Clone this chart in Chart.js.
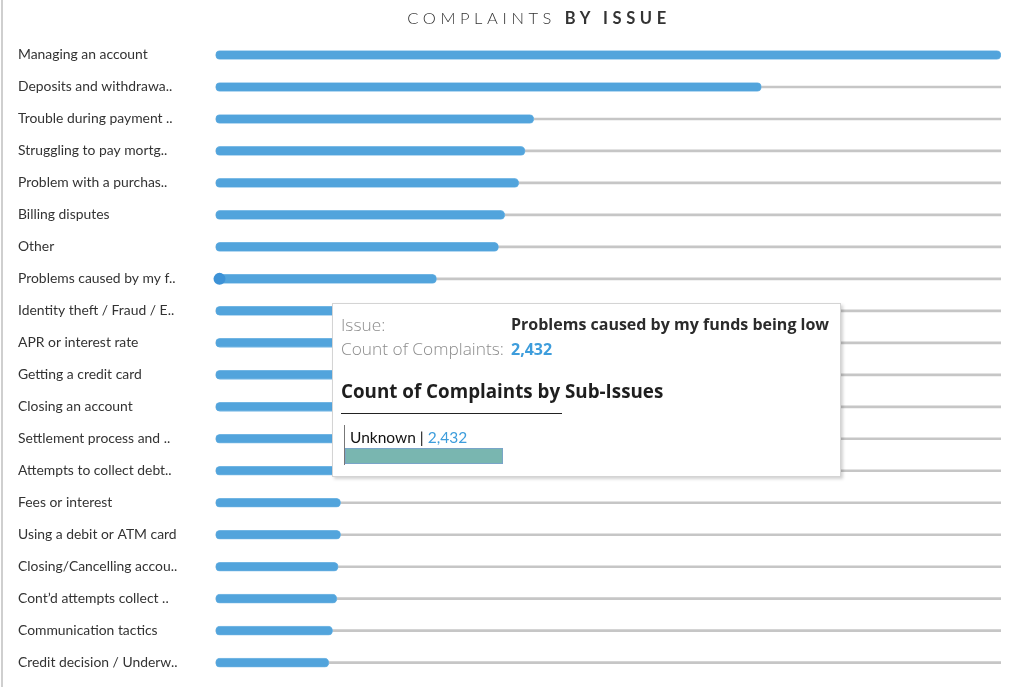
<!DOCTYPE html>
<html>
<head>
<meta charset="utf-8">
<script src="https://cdn.jsdelivr.net/npm/chart.js@4"></script>
<style>
  html, body { margin: 0; padding: 0; background: #fff; }
  body { width: 1035px; height: 687px; position: relative; overflow: hidden; font-family: Lato, "Open Sans", sans-serif; }
  #leftline { position: absolute; left: 1px; top: 0; width: 2px; height: 687px; background: #cfcfcf; }
  #title { position: absolute; left: 0; top: 6px; width: 1078px; text-align: center; font-size: 16.5px; letter-spacing: 4.6px; color: #333; line-height: 24px; }
  #title .l { font-weight: 300; }
  #title .b { font-weight: 700; }
  #wrap { position: absolute; left: 0; top: 0; width: 1035px; height: 687px; }
  #tip { position: absolute; left: 332px; top: 303px; width: 507px; height: 172px; background: #fff; border: 1px solid #d4d4d4; box-shadow: 2px 2px 3px rgba(0,0,0,0.18); }
  .t { position: absolute; white-space: nowrap; font-size: 15.5px; line-height: 20px; }
  .os { font-family: "Open Sans", sans-serif; font-size: 16px; }
  .gray { color: #8c8c8c; font-weight: 300; font-size: 17.3px; }
  .bold { color: #2b2b2b; font-weight: 700; }
  .blue { color: #3d9ddc; }
  #subhead { position: absolute; left: 8px; top: 74px; font-family: "Open Sans", sans-serif; font-size: 18.8px; font-weight: 700; color: #1e1e1e; white-space: nowrap; line-height: 26px; }
  #rule { position: absolute; left: 8px; top: 109px; width: 221px; height: 1px; background: #222; }
  #axisline { position: absolute; left: 11px; top: 121px; width: 1px; height: 40px; background: #777; }
  #miniwrap { position: absolute; left: 12px; top: 144px; width: 158px; height: 16px; }
</style>
</head>
<body>
<div id="leftline"></div>
<div id="wrap"><canvas id="c" width="1035" height="687"></canvas></div>
<div id="title"><span class="l">COMPLAINTS</span> <span class="b">BY ISSUE</span></div>
<div id="tip">
  <div class="t os gray" style="left:8px; top:11px;">Issue:</div>
  <div class="t os bold" style="left:178px; top:10px;" id="tipIssue"></div>
  <div class="t os gray" style="left:8px; top:35px;">Count of Complaints:</div>
  <div class="t os bold blue" style="left:178px; top:35px;" id="tipCount"></div>
  <div id="subhead">Count of Complaints by Sub-Issues</div>
  <div id="rule"></div>
  <div id="axisline"></div>
  <div class="t" style="left:17px; top:123px; color:#111;" id="subLabel"></div>
  <div id="miniwrap"><canvas id="mini" width="158" height="16"></canvas></div>
</div>
<script>
// ---- data ----
const categories = [
  "Managing an account",
  "Deposits and withdrawa..",
  "Trouble during payment ..",
  "Struggling to pay mortg..",
  "Problem with a purchas..",
  "Billing disputes",
  "Other",
  "Problems caused by my f..",
  "Identity theft / Fraud / E..",
  "APR or interest rate",
  "Getting a credit card",
  "Closing an account",
  "Settlement process and ..",
  "Attempts to collect debt..",
  "Fees or interest",
  "Using a debit or ATM card",
  "Closing/Cancelling accou..",
  "Cont\u2019d attempts collect ..",
  "Communication tactics",
  "Credit decision / Underw.."
];
const complaints = [8640, 6005, 3502, 3406, 3337, 3183, 3114, 2432, 2300, 2150, 2000, 1850, 1700, 1550, 1377, 1377, 1350, 1336, 1289, 1248];

const hoveredIssue = "Problems caused by my funds being low";
const hoveredIndex = 7;
const subIssues = ["Unknown"];
const subIssueCounts = [2432];

// ---- main chart ----
const xMax = Math.max(...complaints);
const track = categories.map(() => xMax);
const fmt = n => n.toLocaleString("en-US");

const hoverDot = {
  id: "hoverDot",
  afterDatasetsDraw(chart) {
    const ctx = chart.ctx;
    const xs = chart.scales.x, ys = chart.scales.y;
    const x = xs.getPixelForValue(0) + 4;
    const y = ys.getPixelForValue(hoveredIndex);
    ctx.save();
    ctx.beginPath();
    ctx.arc(x, y, 6, 0, Math.PI * 2);
    ctx.fillStyle = "#3d92d6";
    ctx.fill();
    ctx.restore();
  }
};

new Chart(document.getElementById("c"), {
  type: "bar",
  data: {
    labels: categories,
    datasets: [
      {
        label: "Count of Complaints",
        data: complaints,
        backgroundColor: "#52a4dc",
        borderColor: "#7cbbe6",
        borderWidth: 0.8,
        borderRadius: 5,
        borderSkipped: false,
        barThickness: 9,
        grouped: false,
        order: 1
      },
      {
        label: "track",
        data: track,
        backgroundColor: "#c6c6c6",
        borderWidth: 0,
        barThickness: 2,
        grouped: false,
        order: 2
      }
    ]
  },
  options: {
    indexAxis: "y",
    responsive: false,
    animation: false,
    events: [],
    layout: { padding: { left: 18, right: 34, top: 39, bottom: 8 } },
    plugins: { legend: { display: false }, tooltip: { enabled: false }, title: { display: false } },
    scales: {
      x: { display: false, min: 0, max: xMax },
      y: {
        grid: { display: false },
        border: { display: false },
        ticks: {
          crossAlign: "far",
          padding: 0,
          color: "#333",
          font: { family: "Lato", size: 13.9 }
        },
        afterFit(scale) { scale.width = 197.5; }
      }
    }
  },
  plugins: [hoverDot]
});

// ---- tooltip content ----
document.getElementById("tipIssue").textContent = hoveredIssue;
document.getElementById("tipCount").textContent = fmt(complaints[hoveredIndex]);
document.getElementById("subLabel").innerHTML = subIssues[0] + " | <span class='blue' style='font-weight:400'>" + fmt(subIssueCounts[0]) + "</span>";

new Chart(document.getElementById("mini"), {
  type: "bar",
  data: {
    labels: subIssues,
    datasets: [{
      data: subIssueCounts,
      backgroundColor: "#79b6b0",
      borderColor: "#7a9fd0",
      borderWidth: 1,
      borderSkipped: false,
      barPercentage: 1,
      categoryPercentage: 1
    }]
  },
  options: {
    indexAxis: "y",
    responsive: false,
    animation: false,
    events: [],
    layout: { padding: 0 },
    plugins: { legend: { display: false }, tooltip: { enabled: false } },
    scales: {
      x: { display: false, min: 0, max: Math.max(...subIssueCounts) },
      y: { display: false }
    }
  }
});
</script>
</body>
</html>
